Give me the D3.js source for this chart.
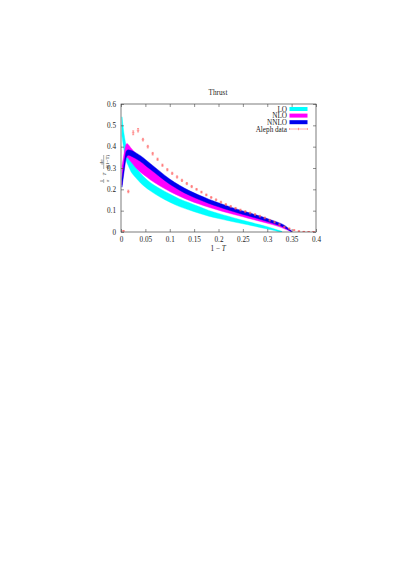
<!DOCTYPE html>
<html><head><meta charset="utf-8">
<script src="https://cdn.jsdelivr.net/npm/d3@7"></script>
<style>
html,body{margin:0;padding:0;background:#fff;}
svg{display:block;}
text{font-family:"Liberation Serif","DejaVu Serif",serif;fill:#222;}
</style></head>
<body>
<svg id="chart" width="399" height="563"></svg>
<script>
// ---- data ----
const xTicks = [0, 0.05, 0.1, 0.15, 0.2, 0.25, 0.3, 0.35, 0.4];
const yTicks = [0, 0.1, 0.2, 0.3, 0.4, 0.5, 0.6];
const xTickLabels = ["0","0.05","0.1","0.15","0.2","0.25","0.3","0.35","0.4"];
const yTickLabels = ["0","0.1","0.2","0.3","0.4","0.5","0.6"];
const seriesNames = ["LO","NLO","NNLO","Aleph data"];

const loX  = [0.002,0.005,0.01,0.015,0.02,0.03,0.04,0.06,0.08,0.10,0.12,0.14,0.16,0.18,0.20,0.22,0.24,0.26,0.28,0.30,0.31,0.32,0.33];
const loLo = [0.45,0.40,0.34,0.31,0.285,0.255,0.23,0.193,0.164,0.14,0.119,0.103,0.088,0.074,0.063,0.053,0.043,0.034,0.024,0.014,0.009,0.004,0.0];
const loHi = [0.54,0.48,0.41,0.365,0.34,0.305,0.275,0.232,0.203,0.178,0.155,0.137,0.119,0.101,0.087,0.074,0.061,0.049,0.037,0.025,0.018,0.01,0.003];

const nloX  = [0.002,0.005,0.008,0.012,0.015,0.02,0.03,0.04,0.05,0.06,0.08,0.10,0.12,0.14,0.16,0.18,0.20,0.22,0.24,0.26,0.28,0.30,0.32,0.33,0.34,0.35];
const nloLo = [0.22,0.27,0.32,0.35,0.345,0.33,0.302,0.28,0.262,0.245,0.216,0.19,0.168,0.148,0.131,0.116,0.102,0.089,0.077,0.065,0.053,0.041,0.028,0.02,0.01,0.002];
const nloHi = [0.31,0.35,0.39,0.415,0.41,0.395,0.37,0.348,0.328,0.31,0.273,0.24,0.212,0.188,0.167,0.148,0.132,0.116,0.101,0.087,0.073,0.058,0.042,0.033,0.019,0.005];

const nnloX  = [0.002,0.005,0.008,0.011,0.015,0.02,0.03,0.04,0.05,0.06,0.08,0.10,0.12,0.14,0.16,0.18,0.20,0.22,0.24,0.26,0.28,0.30,0.32,0.33,0.34,0.345,0.35];
const nnloLo = [0.21,0.26,0.31,0.35,0.36,0.356,0.344,0.33,0.312,0.294,0.258,0.224,0.196,0.172,0.152,0.134,0.118,0.103,0.089,0.076,0.063,0.049,0.034,0.026,0.014,0.007,0.0];
const nnloHi = [0.25,0.30,0.35,0.38,0.385,0.383,0.372,0.358,0.34,0.321,0.284,0.248,0.219,0.194,0.173,0.154,0.137,0.121,0.106,0.092,0.078,0.063,0.047,0.038,0.024,0.014,0.004];

const alephX = [0.005,0.015,0.025,0.035,0.045,0.055,0.065,0.075,0.085,0.095,0.105,0.115,0.125,0.135,0.145,0.155,0.165,0.175,0.185,0.195,0.205,0.215,0.225,0.235,0.245,0.255,0.265,0.275,0.285,0.295,0.305,0.315,0.325,0.335,0.345,0.355,0.365,0.375,0.385,0.395];
const alephY = [0.005,0.19,0.465,0.477,0.433,0.40,0.367,0.341,0.313,0.292,0.275,0.258,0.242,0.227,0.213,0.2,0.187,0.174,0.162,0.151,0.14,0.129,0.12,0.111,0.103,0.096,0.089,0.082,0.074,0.066,0.055,0.046,0.035,0.024,0.016,0.009,0.004,0.002,0.001,0.001];
const alephErr = [0.002,0.006,0.009,0.008,0.006,0.006,0.006,0.005,0.005,0.005,0.005,0.005,0.005,0.005,0.005,0.004,0.004,0.004,0.004,0.004,0.004,0.004,0.004,0.004,0.004,0.004,0.004,0.004,0.004,0.004,0.004,0.004,0.004,0.003,0.003,0.002,0.002,0.001,0.001,0.001];

const colors = ["#00ffff","#ff00ff","#0000ee","#ff5a5a"];

// ---- layout ----
const L = 121, R = 316, T = 104, B = 232;
const svg = d3.select("#chart");
const x = d3.scaleLinear().domain([0,0.4]).range([L,R]);
const y = d3.scaleLinear().domain([0,0.6]).range([B,T]);

const area = d3.area().x(d=>x(d.x)).y0(d=>y(d.lo)).y1(d=>y(d.hi)).curve(d3.curveMonotoneX);
const bands = [
  {xs:loX, lo:loLo, hi:loHi, c:colors[0]},
  {xs:nloX, lo:nloLo, hi:nloHi, c:colors[1]},
  {xs:nnloX, lo:nnloLo, hi:nnloHi, c:colors[2]}
];
const plot = svg.append("g");
plot.append("clipPath").attr("id","clip").append("rect").attr("x",L).attr("y",T).attr("width",R-L).attr("height",B-T);
const pg = plot.append("g").attr("clip-path","url(#clip)");
bands.forEach(b=>{
  const pts = b.xs.map((v,i)=>({x:v, lo:b.lo[i], hi:b.hi[i]}));
  pg.append("path").attr("d",area(pts)).attr("fill",b.c).attr("stroke",b.c).attr("stroke-width",0.4);
});

// Aleph data with error bars
const eg = pg.append("g").attr("stroke",colors[3]).attr("stroke-width",0.6).attr("fill","none");
alephX.forEach((xv,i)=>{
  const cx = x(xv), cy = y(alephY[i]);
  const y1 = y(alephY[i]+alephErr[i]), y2 = y(alephY[i]-alephErr[i]);
  eg.append("line").attr("x1",cx).attr("x2",cx).attr("y1",y1).attr("y2",y2);
  eg.append("line").attr("x1",cx-1).attr("x2",cx+1).attr("y1",y1).attr("y2",y1);
  eg.append("line").attr("x1",cx-1).attr("x2",cx+1).attr("y1",y2).attr("y2",y2);
  eg.append("line").attr("x1",cx-1.3).attr("x2",cx+1.3).attr("y1",cy).attr("y2",cy);
});

// frame
svg.append("rect").attr("x",L).attr("y",T).attr("width",R-L).attr("height",B-T)
  .attr("fill","none").attr("stroke","#444").attr("stroke-width",0.7);

// axes with inward ticks (mirrored)
const fs = 7.2;
const xb = svg.append("g").attr("transform",`translate(0,${B})`)
  .call(d3.axisBottom(x).tickValues(xTicks).tickFormat((d,i)=>xTickLabels[i]).tickSize(-3).tickPadding(5));
const xt = svg.append("g").attr("transform",`translate(0,${T})`)
  .call(d3.axisTop(x).tickValues(xTicks).tickFormat("").tickSize(-3));
const yl = svg.append("g").attr("transform",`translate(${L},0)`)
  .call(d3.axisLeft(y).tickValues(yTicks).tickFormat((d,i)=>yTickLabels[i]).tickSize(-3).tickPadding(5));
const yr = svg.append("g").attr("transform",`translate(${R},0)`)
  .call(d3.axisRight(y).tickValues(yTicks).tickFormat("").tickSize(-3));
[xb,xt,yl,yr].forEach(g=>{
  g.select(".domain").remove();
  g.selectAll(".tick line").attr("stroke","#444").attr("stroke-width",0.6);
  g.selectAll(".tick text").attr("font-size",fs).attr("font-family","Liberation Serif").attr("fill","#333");
});

// title
svg.append("text").attr("x",218).attr("y",95).attr("text-anchor","middle").attr("font-size",7.2).text("Thrust");

// x label
const xlab = svg.append("text").attr("x",218).attr("y",251).attr("text-anchor","middle").attr("font-size",7.2);
xlab.append("tspan").text("1 − ");
xlab.append("tspan").attr("font-style","italic").text("T");

// y label (rotated fraction)
const yg = svg.append("g").attr("transform","translate(104,168) rotate(-90)");
yg.append("text").attr("x",-13).attr("y",-1.5).attr("text-anchor","middle").attr("font-size",5).text("1");
yg.append("text").attr("x",-13).attr("y",4.5).attr("text-anchor","middle").attr("font-size",5).text("σ");
yg.append("line").attr("x1",-15).attr("x2",-11).attr("y1",-0.3).attr("y2",-0.3).attr("stroke","#333").attr("stroke-width",0.4);
yg.append("text").attr("x",-6).attr("y",1.8).attr("text-anchor","middle").attr("font-size",5).attr("font-style","italic").text("T");
yg.append("text").attr("x",6).attr("y",-1.5).attr("text-anchor","middle").attr("font-size",5).text("dσ");
yg.append("text").attr("x",6).attr("y",4.5).attr("text-anchor","middle").attr("font-size",5).text("d(1−T)");
yg.append("line").attr("x1",-1).attr("x2",13).attr("y1",-0.3).attr("y2",-0.3).attr("stroke","#333").attr("stroke-width",0.4);

// legend
const legY = [109, 115.6, 122.2, 129];
const lg = svg.append("g");
seriesNames.forEach((n,i)=>{
  lg.append("text").attr("x",287).attr("y",legY[i]+2.5).attr("text-anchor","end").attr("font-size",7.2).text(n);
  if(i<3){
    lg.append("rect").attr("x",289.5).attr("y",legY[i]-2).attr("width",18).attr("height",4).attr("fill",colors[i]);
  } else {
    const c = colors[3];
    lg.append("line").attr("x1",289.5).attr("x2",307.5).attr("y1",legY[i]).attr("y2",legY[i]).attr("stroke",c).attr("stroke-width",0.5);
    [289.5,307.5].forEach(xx=>lg.append("line").attr("x1",xx).attr("x2",xx).attr("y1",legY[i]-1).attr("y2",legY[i]+1).attr("stroke",c).attr("stroke-width",0.5));
    lg.append("line").attr("x1",298.5).attr("x2",298.5).attr("y1",legY[i]-1.2).attr("y2",legY[i]+1.2).attr("stroke",c).attr("stroke-width",0.6);
  }
});
</script>
</body></html>
